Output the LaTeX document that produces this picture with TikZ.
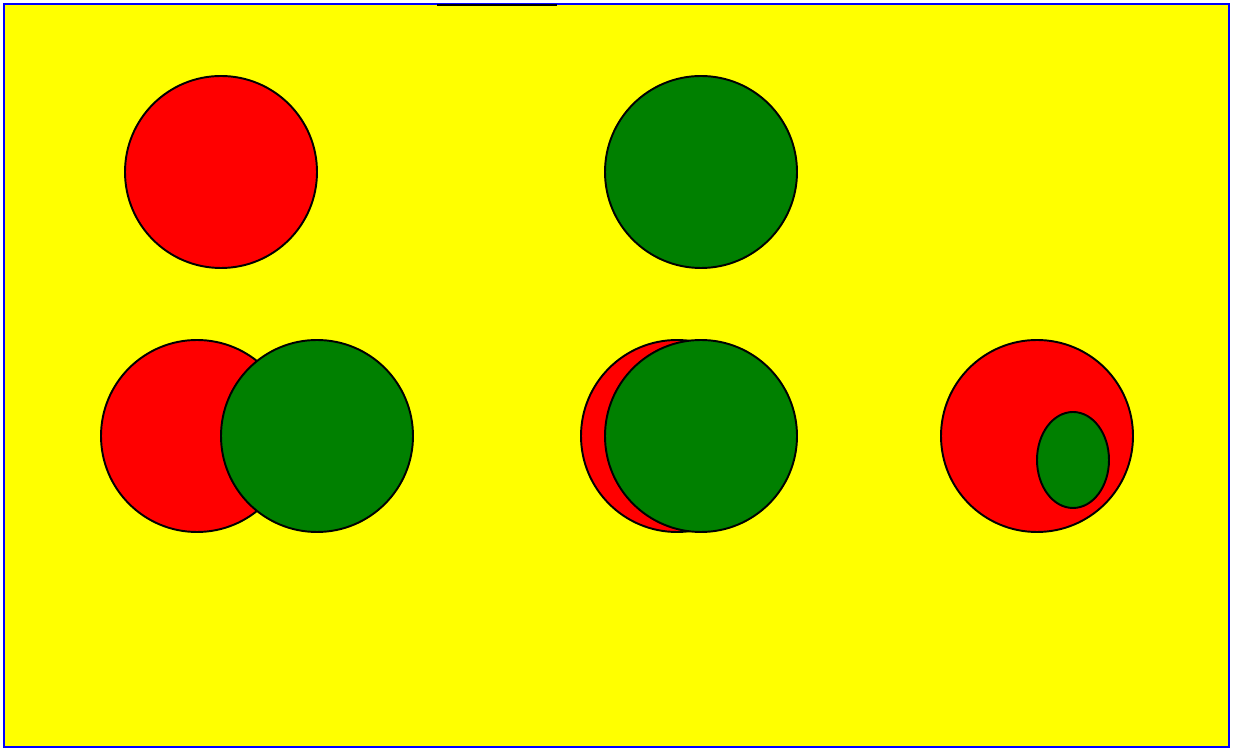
\documentclass[tikz,border=0pt]{standalone}
\usepackage{tikz}
\definecolor{paneyellow}{RGB}{255,255,0}
\definecolor{paneblue}{RGB}{0,0,255}
\definecolor{ringred}{RGB}{255,0,0}
\definecolor{ringgreen}{RGB}{0,128,0}

\tikzset{
	ring/.style={draw=black, line width=1.1pt},
	redring/.style={ring, fill=ringred},
	greenring/.style={ring, fill=ringgreen}
}

\begin{document}
\begin{tikzpicture}[x=0.02cm, y=-0.02cm]
	\useasboundingbox (0,0) rectangle (1235,749);
	\draw[fill=paneyellow, draw=paneblue, line width=1.3pt] (4,4) rectangle (1229,747);
	\draw[black, line width=1pt] (437,5) -- (557,5);
	% top row
	\draw[redring] (221,172) circle (96);
	\draw[greenring] (701,172) circle (96);
	% bottom row
	\draw[redring] (197,436) circle (96);
	\draw[greenring] (317,436) circle (96);
	\draw[redring] (677,436) circle (96);
	\draw[greenring] (701,436) circle (96);
	\draw[redring] (1037,436) circle (96);
	\draw[greenring] (1073,460) ellipse (36 and 48);
\end{tikzpicture}
\end{document}
